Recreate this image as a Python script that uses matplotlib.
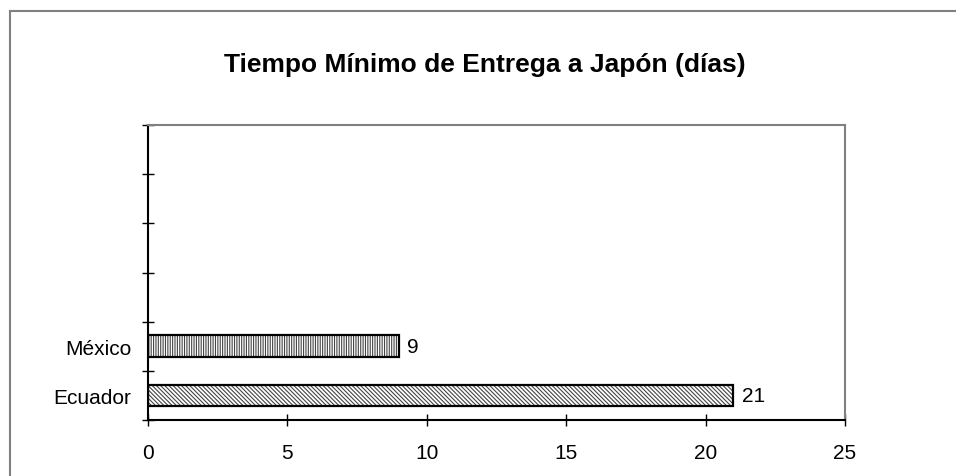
import matplotlib
matplotlib.use("Agg")
import matplotlib.pyplot as plt
from matplotlib.patches import Rectangle

categories = ["Ecuador", "México", "", "", "", ""]
values = [21, 9]
hatches = ["\\\\\\\\\\\\\\\\", "|||||||"]
title = "Tiempo Mínimo de Entrega a Japón (días)"
xticks = [0, 5, 10, 15, 20, 25]

plt.rcParams['font.family'] = ['Liberation Sans', 'DejaVu Sans']
plt.rcParams['hatch.linewidth'] = 0.8
FS = 15

fig = plt.figure(figsize=(9.56, 4.77), dpi=100)
fig.patch.set_facecolor("white")
# outer chart border (extends past right/bottom)
fig.add_artist(Rectangle((10/956, -0.1), 1.2, 0.1 + 1 - 12/477, transform=fig.transFigure,
                         fill=False, edgecolor="#808080", linewidth=1.5))

ax = fig.add_axes([148/956, 1 - 421/477, 697/956, 295/477])
n = len(categories)
ypos = list(range(len(values)))
ax.barh(ypos, values, height=0.44, color="white", edgecolor="#444444", hatch=hatches, linewidth=0)
ax.barh(ypos, values, height=0.44, fill=False, edgecolor="black", linewidth=1.6)
for y, v in zip(ypos, values):
    ax.annotate(str(v), (v, y), xytext=(6, 0), textcoords="offset points",
                va="center", ha="left", fontsize=FS)

ax.set_xlim(0, 25)
ax.set_ylim(-0.5, n - 0.5)
ax.set_xticks(xticks)
ax.set_xticklabels([str(t) for t in xticks], fontsize=FS)
ax.set_yticks([i - 0.5 for i in range(n + 1)])
ax.set_yticklabels([])
ax.set_yticks(list(range(n)), minor=True)
ax.set_yticklabels(categories, minor=True, fontsize=FS)
ax.tick_params(axis="y", which="minor", length=0, pad=12)
ax.tick_params(axis="y", which="major", direction="inout", length=9, width=1, color="black")
ax.tick_params(axis="x", which="major", direction="inout", length=9, width=1, pad=12, color="black")

for s in ["left", "bottom"]:
    ax.spines[s].set_color("black")
    ax.spines[s].set_linewidth(1.5)
for s in ["top", "right"]:
    ax.spines[s].set_color("#808080")
    ax.spines[s].set_linewidth(1.5)

fig.text(485/956, 1 - 72/477, title, ha="center", va="baseline", fontsize=19, fontweight="bold")

fig.savefig("out.png", dpi=100)
